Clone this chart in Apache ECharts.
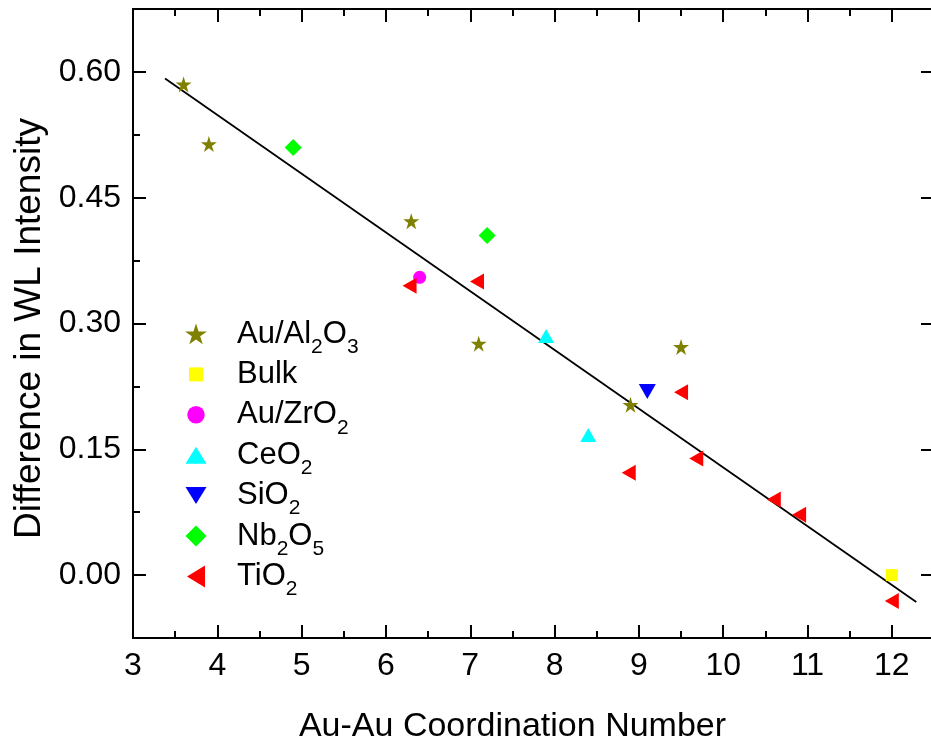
<!DOCTYPE html>
<html>
<head>
<meta charset="utf-8">
<script src="https://cdn.jsdelivr.net/npm/echarts@6/dist/echarts.min.js"></script>
<style>
html, body { margin: 0; padding: 0; background: #fff; }
#chart { width: 931px; height: 747px; }
</style>
</head>
<body>
<div id="chart"></div>
<script>
// data: [coordination number, difference in WL intensity]
var alData = [[3.6, 0.585], [3.9, 0.514], [6.3, 0.422], [7.1, 0.276], [8.9, 0.203], [9.5, 0.272]];
var bulkData = [[12, 0.0]];
var zrData = [[6.4, 0.355]];
var ceData = [[7.9, 0.285], [8.4, 0.167]];
var siData = [[9.1, 0.219]];
var nbData = [[4.9, 0.51], [7.2, 0.405]];
var tiData = [[6.28, 0.345], [7.08, 0.35], [8.88, 0.122], [9.5, 0.218], [9.68, 0.139], [10.6, 0.09], [10.9, 0.072], [12, -0.031]];
var fitData = [[3.38, 0.592], [12.29, -0.032]];

var xMajor = [3, 4, 5, 6, 7, 8, 9, 10, 11, 12];
var xMinor = [3.5, 4.5, 5.5, 6.5, 7.5, 8.5, 9.5, 10.5, 11.5, 12.5];
var yMajor = [0, 0.15, 0.3, 0.45, 0.6];
var yMinor = [-0.075, 0.075, 0.225, 0.375, 0.525, 0.675];

var FONT = 'Arial, "Liberation Sans", sans-serif';

// marker shapes
function poly(pts) {
    return pts.map(function (p, i) { return (i ? 'L' : 'M') + p[0].toFixed(2) + ' ' + p[1].toFixed(2); }).join(' ') + ' Z';
}
function starPts(cx, cy, R, r) {
    var pts = [];
    for (var k = 0; k < 10; k++) {
        var a = (-90 + k * 36) * Math.PI / 180;
        var rr = k % 2 ? r : R;
        pts.push([cx + rr * Math.cos(a), cy + rr * Math.sin(a)]);
    }
    return pts;
}
var starSym = 'path://' + poly(starPts(50, 50, 50, 19));
var upSym = 'path://M0 10 L5 0 L10 10 Z';
var downSym = 'path://M0 0 L10 0 L5 10 Z';
var leftSym = 'path://M0 5 L10 0 L10 10 Z';

// legend icons all live in a 22x22 box (anchors fix the box)
var box = 'M0 0 L0 0 M22 22 L22 22 ';
var legendIcons = {
    'Au/Al2O3': 'path://' + box + poly(starPts(11, 12, 11.5, 4.4)),
    'Bulk': 'path://' + box + 'M4 4 L18 4 L18 18 L4 18 Z',
    'Au/ZrO2': 'path://' + box + 'M2.25 11 A8.75 8.75 0 1 0 19.75 11 A8.75 8.75 0 1 0 2.25 11 Z',
    'CeO2': 'path://' + box + 'M0.5 19.5 L11 2.5 L21.5 19.5 Z',
    'SiO2': 'path://' + box + 'M0.5 2.5 L21.5 2.5 L11 19.5 Z',
    'Nb2O5': 'path://' + box + 'M11 0.5 L21.5 11 L11 21.5 L0.5 11 Z',
    'TiO2': 'path://' + box + 'M2 11 L20 0 L20 22 Z'
};
var legendRich = {
    'Au/Al2O3': '{f|Au/Al}{s|2}{t|O}{s|3}',
    'Bulk': '{f|Bulk}{s| }',
    'Au/ZrO2': '{f|Au/ZrO}{s|2}',
    'CeO2': '{f|CeO}{s|2}',
    'SiO2': '{f|SiO}{s|2}',
    'Nb2O5': '{f|Nb}{s|2}{t|O}{s|5}',
    'TiO2': '{f|TiO}{s|2}'
};
var names = ['Au/Al2O3', 'Bulk', 'Au/ZrO2', 'CeO2', 'SiO2', 'Nb2O5', 'TiO2'];

function valAxis(extra) {
    var a = {
        type: 'value',
        gridIndex: 0,
        splitLine: { show: false },
        axisLine: { show: true, onZero: false, lineStyle: { color: '#000', width: 2 } },
        axisLabel: { show: false }
    };
    for (var k in extra) a[k] = extra[k];
    return a;
}
function ticks(vals, len) {
    return { show: true, inside: true, length: len, customValues: vals, lineStyle: { color: '#000', width: 2 } };
}

var xRange = { min: 3, max: 12.5 };
var yRange = { min: -0.075, max: 0.675 };
var ROW = 47;

var myChart = echarts.init(document.getElementById('chart'));

var option = {
    backgroundColor: '#fff',
    animation: false,
    grid: { left: 133, right: -3, top: 9, bottom: 109, containLabel: false, outerBoundsMode: 'none' },
    xAxis: [
        valAxis({
            position: 'bottom', min: xRange.min, max: xRange.max,
            axisTick: ticks(xMajor, 13),
            axisLabel: { show: true, customValues: xMajor, margin: 12, fontSize: 32, color: '#000', fontFamily: FONT },
            name: 'Au-Au Coordination Number', nameLocation: 'middle', nameGap: 72,
            nameTextStyle: { fontSize: 34, color: '#000', fontFamily: FONT, padding: [0, 42, 0, 0] }
        }),
        valAxis({ position: 'top', min: xRange.min, max: xRange.max, axisTick: ticks(xMajor, 13) }),
        valAxis({ position: 'bottom', min: xRange.min, max: xRange.max, axisTick: ticks(xMinor, 7) }),
        valAxis({ position: 'top', min: xRange.min, max: xRange.max, axisTick: ticks(xMinor, 7) })
    ],
    yAxis: [
        valAxis({
            position: 'left', min: yRange.min, max: yRange.max,
            axisTick: ticks(yMajor, 13),
            axisLabel: {
                show: true, customValues: yMajor, margin: 12, fontSize: 32, color: '#000', fontFamily: FONT,
                formatter: function (v) { return v.toFixed(2); }
            },
            name: 'Difference in WL Intensity', nameLocation: 'middle', nameGap: 82,
            nameTextStyle: { fontSize: 37, color: '#000', fontFamily: FONT, padding: [0, 10, 0, 0] }
        }),
        valAxis({ position: 'right', min: yRange.min, max: yRange.max, axisLine: { show: false, onZero: false }, axisTick: ticks(yMajor, 13) }),
        valAxis({ position: 'left', min: yRange.min, max: yRange.max, axisTick: ticks(yMinor, 7) })
    ],
    legend: {
        orient: 'vertical',
        left: 185,
        top: 318.5,
        padding: 0,
        itemGap: 1.4,
        itemWidth: 22,
        itemHeight: 22,
        symbolRotate: 0,
        data: names.map(function (n) { return { name: n, icon: legendIcons[n] }; }),
        formatter: function (n) { return legendRich[n]; },
        textStyle: {
            color: '#000', fontFamily: FONT, fontSize: 31,
            rich: {
                f: { fontSize: 31, lineHeight: ROW, verticalAlign: 'middle', color: '#000', fontFamily: FONT, padding: [0, 0, 0, 25] },
                t: { fontSize: 31, lineHeight: ROW, verticalAlign: 'middle', color: '#000', fontFamily: FONT },
                s: { fontSize: 21, lineHeight: ROW, verticalAlign: 'bottom', color: '#000', fontFamily: FONT }
            }
        }
    },
    series: [
        {
            name: 'fit', type: 'line', data: fitData, symbol: 'none', silent: true,
            lineStyle: { color: '#000', width: 1.8 }, z: 1
        },
        { name: 'Au/Al2O3', type: 'scatter', data: alData, symbol: starSym, symbolSize: 16, itemStyle: { color: '#808000', opacity: 1 }, z: 3 },
        { name: 'Bulk', type: 'scatter', data: bulkData, symbol: 'rect', symbolSize: 12, itemStyle: { color: '#FFFF00', opacity: 1 }, z: 3 },
        { name: 'Au/ZrO2', type: 'scatter', data: zrData, symbol: 'circle', symbolSize: 13, itemStyle: { color: '#FF00FF', opacity: 1 }, z: 3 },
        { name: 'CeO2', type: 'scatter', data: ceData, symbol: upSym, symbolSize: [16, 14], itemStyle: { color: '#00FFFF', opacity: 1 }, z: 3 },
        { name: 'SiO2', type: 'scatter', data: siData, symbol: downSym, symbolSize: [17, 15], itemStyle: { color: '#0000FF', opacity: 1 }, z: 3 },
        { name: 'Nb2O5', type: 'scatter', data: nbData, symbol: 'diamond', symbolSize: 17, itemStyle: { color: '#00FF00', opacity: 1 }, z: 3 },
        { name: 'TiO2', type: 'scatter', data: tiData, symbol: leftSym, symbolSize: [14, 16], itemStyle: { color: '#FF0000', opacity: 1 }, z: 3 }
    ]
};

myChart.setOption(option);
</script>
</body>
</html>
